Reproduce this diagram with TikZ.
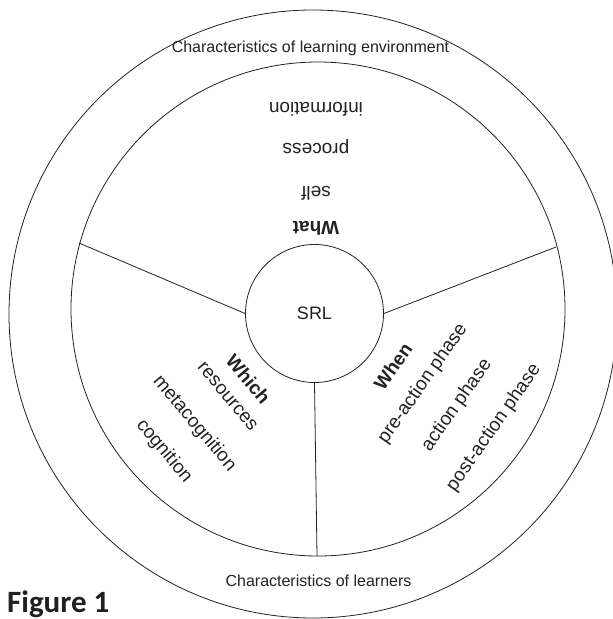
\documentclass[tikz,border=0pt]{standalone}
\usepackage{fontspec}
\setmainfont{Liberation Sans}
\newfontfamily\figfont{Carlito}
\definecolor{ink}{HTML}{222222}
\definecolor{figink}{HTML}{231F20}
\begin{document}
\begin{tikzpicture}[x=1pt,y=-1pt,
  ring/.style={draw=ink, line width=0.8pt},
  lbl/.style={inner sep=0pt, text=ink, font=\fontsize{19}{23}\selectfont, text height=0.72em, text depth=0pt},
  hd/.style={lbl, font=\fontsize{19}{23}\selectfont\bfseries},
  outerlbl/.style={lbl, font=\fontsize{16}{19}\selectfont}]
\useasboundingbox (0,0) rectangle (613,619);
% circles
\node[circle, ring, minimum size=608pt, inner sep=0pt] (outer) at (313,314) {};
\node[circle, ring, minimum size=494pt, inner sep=0pt] (inner) at (318,309) {};
\node[circle, ring, fill=white, minimum size=138pt, inner sep=0pt, text=ink, font=\fontsize{18}{22}\selectfont] (srl) at (314.5,313.5) {SRL};
% dividers
\coordinate (wl) at (79,243);
\coordinate (wr) at (556,247);
\coordinate (wb) at (317,556);
\draw[ring] (srl.west) -- (wl);
\draw[ring] (srl.east) -- (wr);
\draw[ring] (srl.south) -- (wb);
% outer ring labels
\node[outerlbl] (env) at (310.5,49) {Characteristics of learning environment};
\node[outerlbl] (lrn) at (318.5,583) {Characteristics of learners};
% What (upside down)
\node[hd, rotate=180] (what) at (316,225) {What};
\node[lbl, rotate=180] (self) at (316,190) {self};
\node[lbl, rotate=180] (proc) at (316,147) {process};
\node[lbl, rotate=180] (info) at (316,106) {information};
% Which
\node[hd, rotate=-50] (which) at (246,381) {Which};
\node[lbl, rotate=-50] (res) at (226.5,397.5) {resources};
\node[lbl, rotate=-50] (meta) at (193.5,424.5) {metacognition};
\node[lbl, rotate=-50] (cog) at (163,452) {cognition};
% When
\node[hd, rotate=55] (when) at (395.5,368) {When};
\node[lbl, rotate=55] (pre) at (424,384.5) {pre-action phase};
\node[lbl, rotate=55] (act) at (458,406) {action phase};
\node[lbl, rotate=55] (post) at (495,428.5) {post-action phase};
% caption
\node[anchor=base west, inner sep=0pt, text=figink, font=\figfont\bfseries\fontsize{31}{36}\selectfont] (fig) at (7,612) {Figure 1};
\end{tikzpicture}
\end{document}
